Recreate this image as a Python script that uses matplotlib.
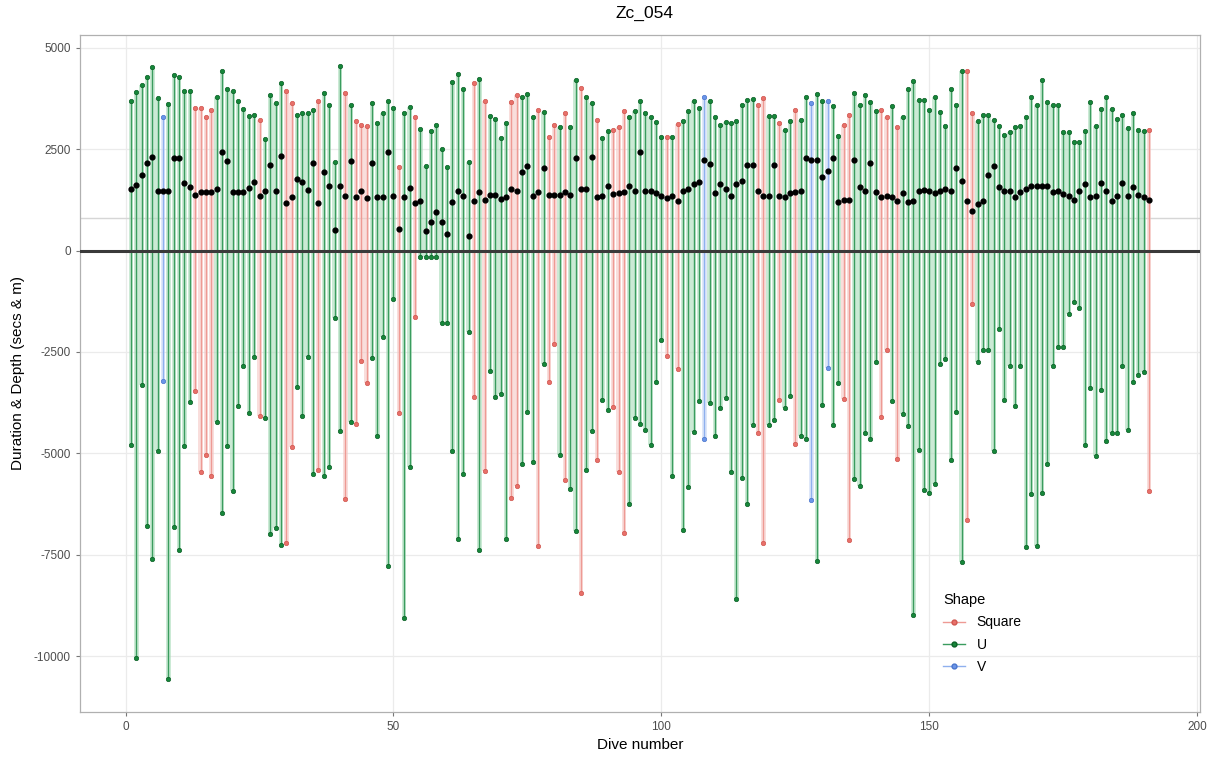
import numpy as np
import matplotlib
matplotlib.use("Agg")
import matplotlib.pyplot as plt
from matplotlib.lines import Line2D

plt.rcParams["font.family"] = ["Liberation Sans", "DejaVu Sans"]
plt.rcParams["axes.unicode_minus"] = False

# dive duration (secs), positive side
duration = [
    3677, 3900, 4088, 4286, 4532, 3752, 3300, 3620, 4335, 4285,
    3940, 3940, 3520, 3500, 3300, 3450, 3776, 4434, 3990, 3940,
    3695, 3497, 3320, 3330, 3226, 2758, 3842, 3645, 4120, 3940,
    3628, 3350, 3380, 3380, 3450, 3695, 3875, 3596, 2175, 4557,
    3875, 3596, 3180, 3100, 3080, 3629, 3136, 3383, 3678, 3514,
    2053, 3383, 3530, 3284, 2997, 2094, 2956, 3095, 2504, 2053,
    4146, 4351, 3974, 2192, 4138, 4228, 3678, 3309, 3243, 2767,
    3136, 3662, 3834, 3777, 3859, 3300, 3465, 3424, 2808, 3103,
    3038, 3383, 3038, 4212, 3998, 3793, 3629, 3218, 2775, 2956,
    2980, 3054, 3432, 3300, 3448, 3678, 3383, 3300, 3161, 2808,
    2808, 2808, 3120, 3202, 3448, 3694, 3514, 3793, 3678, 3284,
    3103, 3161, 3136, 3202, 3596, 3719, 3735, 3596, 3760, 3309,
    3317, 3136, 2972, 3202, 3465, 3227, 3793, 3629, 3859, 3678,
    3678, 3571, 2832, 3103, 3350, 3875, 3596, 3842, 3653, 3448,
    3465, 3284, 3571, 3054, 3284, 3982, 4187, 3719, 3719, 3465,
    3793, 3407, 3079, 3982, 3596, 4417, 4433, 3383, 3202, 3350,
    3350, 3227, 3079, 2849, 2915, 3038, 3079, 3284, 3793, 3596,
    4204, 3653, 3596, 3596, 2931, 2931, 2668, 2668, 2940, 3653,
    3079, 3489, 3793, 3489, 3243, 3350, 3021, 3383, 2980, 2956,
    2980,
]

# max depth (m), drawn negative
depth = [
    -4803, -10042, -3325, -6798, -7611, -4942, -3219, -10567, -6814, -7389,
    -4827, -3736, -3465, -5460, -5033, -5560, -4229, -6462, -4827, -5936,
    -3835, -2850, -4000, -2628, -4081, -4130, -6978, -6840, -7266, -7200,
    -4843, -3367, -4081, -2628, -5500, -5419, -5560, -5337, -1667, -4451,
    -6133, -4229, -4270, -2727, -3268, -2652, -4573, -2135, -7783, -1199,
    -4007, -9056, -5337, -1626, -148, -148, -148, -148, -1790, -1790,
    -4943, -7118, -5500, -2012, -3613, -7389, -5435, -2980, -3613, -3547,
    -7118, -6100, -5813, -5271, -3982, -5213, -7290, -2791, -3243, -2315,
    -5033, -5665, -5870, -6921, -8432, -5402, -4450, -5172, -3695, -3924,
    -3859, -5460, -6953, -6256, -4130, -4269, -4433, -4787, -3243, -2200,
    -2603, -5558, -2931, -6896, -5830, -4475, -3719, -4655, -3761, -4573,
    -3884, -3637, -5460, -8596, -5608, -6256, -4310, -4500, -7208, -4310,
    -4187, -3695, -3884, -3596, -4762, -4573, -4638, -6140, -7660, -3818,
    -2890, -4310, -3268, -3670, -7143, -5640, -5813, -4491, -4655, -2750,
    -4105, -2463, -3719, -5148, -4023, -4335, -8974, -4909, -5895, -5977,
    -5763, -2791, -2668, -5172, -3982, -7676, -6650, -1313, -2750, -2463,
    -2463, -4943, -1929, -3695, -2857, -3834, -2857, -7307, -6010, -7282,
    -5968, -5271, -2857, -2365, -2365, -1560, -1273, -1420, -4787, -3391,
    -5074, -3448, -4704, -4500, -4500, -2850, -4417, -3243, -3079, -2997,
    -5928,
]

# black points
bottom_time = [
    1520, 1625, 1864, 2150, 2315, 1460, 1460, 1460, 2283, 2283,
    1658, 1560, 1380, 1436, 1436, 1436, 1527, 2422, 2217, 1450,
    1450, 1450, 1544, 1700, 1338, 1460, 2118, 1460, 2323, 1165,
    1313, 1766, 1683, 1503, 2150, 1165, 1946, 1584, 510, 1584,
    1338, 2217, 1313, 1460, 1288, 2151, 1313, 1330, 2422, 1338,
    533, 1313, 1543, 1166, 1232, 493, 698, 944, 698, 411,
    1191, 1461, 1338, 370, 1232, 1437, 1256, 1379, 1379, 1272,
    1330, 1519, 1461, 1929, 2094, 1354, 1437, 2036, 1379, 1379,
    1379, 1437, 1379, 2274, 1519, 1519, 2315, 1330, 1338, 1584,
    1396, 1421, 1437, 1584, 1461, 2422, 1478, 1478, 1421, 1354,
    1289, 1354, 1232, 1461, 1519, 1642, 1683, 2233, 2134, 1421,
    1642, 1519, 1354, 1642, 1724, 2118, 2118, 1461, 1354, 1354,
    2118, 1354, 1313, 1421, 1437, 1478, 2282, 2233, 2233, 1806,
    1954, 2282, 1190, 1256, 1256, 2233, 1560, 1478, 2151, 1437,
    1313, 1354, 1313, 1232, 1412, 1191, 1232, 1478, 1494, 1461,
    1412, 1478, 1519, 1461, 2036, 1724, 1232, 985, 1149, 1232,
    1871, 2094, 1560, 1461, 1461, 1313, 1437, 1519, 1584, 1584,
    1584, 1584, 1437, 1461, 1396, 1354, 1256, 1478, 1642, 1313,
    1354, 1658, 1461, 1232, 1338, 1658, 1338, 1560, 1379, 1313,
    1256,
]

# S = Square, U = U, V = V
shape = list(
    "UUUUUUVUUU" "UUSSSSUUUU" "UUUUSUUUUS" "SUUUUSUUUU" "SUSSSUUUUU"
    "SUUSUUUUUU" "UUUUSUSUUU" "USSUUUSUSS" "USUUSUUSUU" "SSSUUUUUUU"
    "SUSUUUUVUU" "UUUUUUUSSU" "USUUSUUVUU" "VUUSSUUUUU" "SSUSUUUUUU"
    "UUUUUUSSUU" "UUUUUUUUUU" "UUUUUUUUUU" "UUUUUUUUUU" "S"
)
shape_labels = {"S": "Square", "U": "U", "V": "V"}
line_colors = {"S": "#ee9a94", "U": "#3a9c5e", "V": "#8fb0ee"}
fill_colors = {"S": "#f6c9c5", "U": "#a9dcb9", "V": "#c9d8f6"}
point_colors = {"S": "#e8706a", "U": "#16873a", "V": "#6b95e8"}
edge_colors = {"S": "#d0564f", "U": "#0b5f26", "V": "#4a75cc"}

dive = np.arange(1, len(duration) + 1)
dur = np.array(duration)
dep = np.array(depth)
bt = np.array(bottom_time)
shp = np.array(shape)

fig = plt.figure(figsize=(12.14, 7.58), dpi=100)
ax = fig.add_axes([80 / 1214, 46 / 758, 1120 / 1214, 677 / 758])

# grid like theme_bw
for y in [-10000, -7500, -5000, -2500, 2500, 5000]:
    ax.axhline(y, color="#ebebeb", lw=0.9, zorder=0)
for x in [0, 50, 100, 150, 200]:
    ax.axvline(x, color="#ebebeb", lw=0.9, zorder=0)
ax.axhline(800, color="#d6d6d6", lw=1.0, zorder=0.5)

for code in ["S", "U", "V"]:
    m = shp == code
    ax.bar(dive[m], dur[m] - dep[m], bottom=dep[m], width=0.85,
           color=fill_colors[code], alpha=0.6, lw=0, zorder=1)
    ax.vlines(dive[m], dep[m], dur[m], color=line_colors[code], lw=1.0, zorder=2)
    for vals in (dur[m], dep[m]):
        ax.scatter(dive[m], vals, s=10, color=point_colors[code],
                   edgecolors=edge_colors[code], linewidths=0.5, zorder=3)

ax.scatter(dive, bt, s=12, color="black", zorder=4)
ax.axhline(0, color="#3a3a3a", lw=2.2, zorder=5)

ax.set_xlim(-8.5, 200.5)
ax.set_ylim(-11370, 5310)
ax.set_xticks([0, 50, 100, 150, 200])
ax.set_yticks([-10000, -7500, -5000, -2500, 0, 2500, 5000])
ax.tick_params(labelsize=8.5, labelcolor="#4d4d4d", color="#777777", length=3)
for sp in ax.spines.values():
    sp.set_color("#b0b0b0")
    sp.set_linewidth(0.9)

handles = [Line2D([0], [0], color=line_colors[k], marker="o", markersize=3.5,
                  markerfacecolor=point_colors[k], markeredgecolor=edge_colors[k],
                  lw=1) for k in ["S", "U", "V"]]
leg = ax.legend(handles, [shape_labels[k] for k in ["S", "U", "V"]],
                title="Shape", loc="upper left", bbox_to_anchor=(0.762, 0.19),
                frameon=False, fontsize=10, title_fontsize=10.5,
                handlelength=1.6, labelspacing=0.6, borderpad=0.2)
leg._legend_box.align = "left"

fig.text(645 / 1214, 1 - 13 / 758, "Zc_054", ha="center", va="center", fontsize=12.5)
fig.text(640 / 1214, 1 - 745 / 758, "Dive number", ha="center", va="center", fontsize=11)
fig.text(18 / 1214, 1 - 373 / 758, "Duration & Depth (secs & m)", ha="center",
         va="center", rotation=90, fontsize=11)

fig.savefig("out.png", dpi=100)
